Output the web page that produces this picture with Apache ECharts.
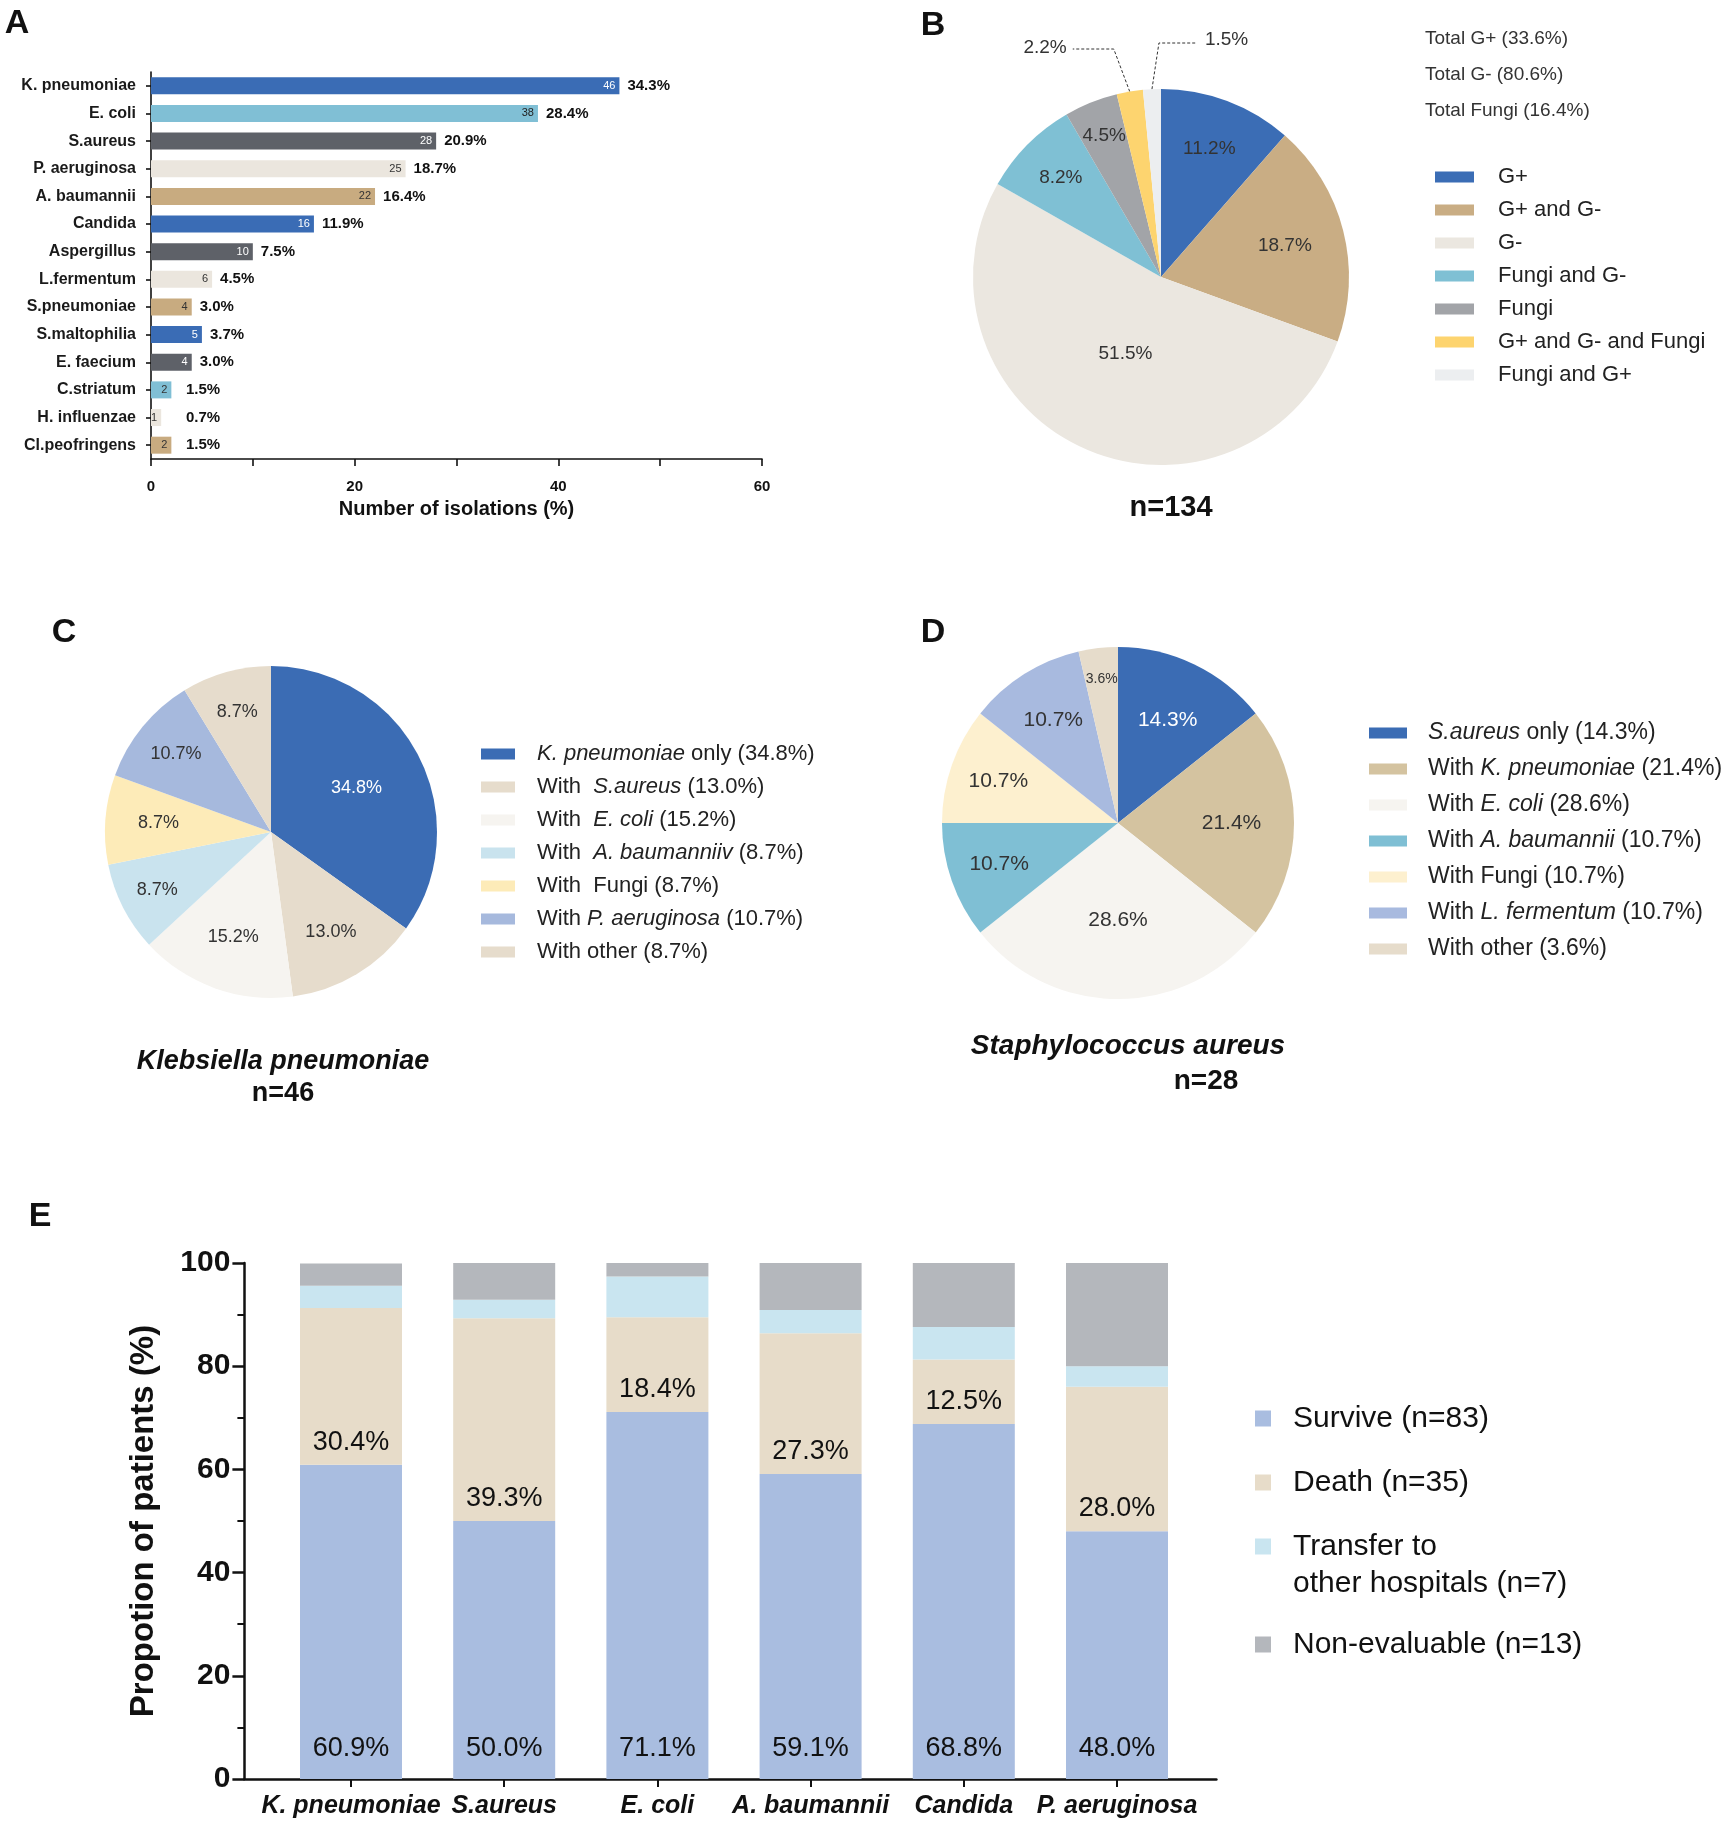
<!DOCTYPE html>
<html><head><meta charset="utf-8">
<script src="https://cdn.jsdelivr.net/npm/echarts@6/dist/echarts.min.js"></script>
<style>html,body{margin:0;padding:0;background:#fff}#c{width:1734px;height:1822px}</style>
</head><body><div id="c"></div>
<script>
// ---------------- DATA ----------------
// Panel A
const isolateNames = ['K. pneumoniae','E. coli','S.aureus','P. aeruginosa','A. baumannii','Candida','Aspergillus','L.fermentum','S.pneumoniae','S.maltophilia','E. faecium','C.striatum','H. influenzae','Cl.peofringens'];
const isolateCounts = [46,38,28,25,22,16,10,6,4,5,4,2,1,2];
const isolatePct = ['34.3','28.4','20.9','18.7','16.4','11.9','7.5','4.5','3.0','3.7','3.0','1.5','0.7','1.5'];
const xTicksA = { min: 0, max: 60, step: 10, labelEvery: 20 };
// Panel B
const mixNames = ['G+','G+ and G-','G-','Fungi and G-','Fungi','G+ and G- and Fungi','Fungi and G+'];
const mixPct = [11.2,18.7,51.5,8.2,4.5,2.2,1.5];
const totalsText = ['Total G+ (33.6%)','Total G- (80.6%)','Total Fungi (16.4%)'];
// Panel C
const kpNames = ['K. pneumoniae only','With  S.aureus','With  E. coli','With  A. baumanniiv','With  Fungi','With P. aeruginosa','With other'];
const kpLegend = ['{i|K. pneumoniae} only','With  {i|S.aureus}','With  {i|E. coli}','With  {i|A. baumanniiv}','With  Fungi','With {i|P. aeruginosa}','With other'];
const kpPct = [34.8,13.0,15.2,8.7,8.7,10.7,8.7];
// Panel D
const saNames = ['S.aureus only','With K. pneumoniae','With E. coli','With A. baumannii','With Fungi','With L. fermentum','With other'];
const saLegend = ['{i|S.aureus} only','With {i|K. pneumoniae}','With {i|E. coli}','With {i|A. baumannii}','With Fungi','With {i|L. fermentum}','With other'];
const saPct = [14.3,21.4,28.6,10.7,10.7,10.7,3.6];
// Panel E
const outcomeCats = ['K. pneumoniae','S.aureus','E. coli','A. baumannii','Candida','P. aeruginosa'];
const survive  = [60.9,50.0,71.1,59.1,68.8,48.0];
const death    = [30.4,39.3,18.4,27.3,12.5,28.0];
const transfer = [4.3,3.6,7.9,4.5,6.3,4.0];
const nonEval  = [4.3,7.1,2.6,9.1,12.5,20.0];
const outcomeNames = ['Survive (n=83)','Death (n=35)','Transfer to\nother hospitals (n=7)','Non-evaluable (n=13)'];

// ---------------- STYLE ----------------
const FONT = '"Liberation Sans", Arial, sans-serif';
const BLUE='#3a6cb5', LBLUE='#80bfd5', DGRAY='#5e6168', BEIGE='#ebe6de', TAN='#c8ab80';
const barColorsA = [BLUE,LBLUE,DGRAY,BEIGE,TAN,BLUE,DGRAY,BEIGE,TAN,BLUE,DGRAY,LBLUE,BEIGE,TAN];
const countColorsA = ['#fff','#222','#fff','#333','#333','#fff','#fff','#333','#333','#fff','#fff','#333','#333','#333'];
const mixColors = ['#3b6db5','#c9ad84','#ebe7e0','#7fc0d4','#a2a4a8','#fdd46f','#eceef0'];
const kpColors = ['#3b6cb4','#e6dccc','#f6f4f0','#c9e3ee','#fdebb8','#a6b9dd','#e6dccc'];
const saColors = ['#3b6cb4','#d4c3a0','#f6f4f0','#7fbfd4','#fdf0cf','#a8badf','#e6dccb'];
const outcomeColors = ['#a9bde0','#e7dcc9','#c9e5f0','#b4b7bc'];

const gridA = {left:151, top:72, width:611, height:387};
const pxPerUnitA = gridA.width / (xTicksA.max - xTicksA.min);

const pieB = {cx:1161, cy:277, r:188, fracs:[0.73,0.68,0.45,0.75,0.81,0,0]};
const pieC = {cx:271, cy:832, r:166, fracs:[0.58,0.70,0.67,0.77,0.68,0.74,0.75]};
const pieD = {cx:1118, cy:823, r:176, fracs:[0.65,0.645,0.555,0.715,0.72,0.69,0.82]};
const outerB = {
  5: {elbowDx:-16, lineY:49, endDx:-57, textDx:-6, textY:48, align:'right'},
  6: {elbowDx:7, lineY:43, endDx:45, textDx:8, textY:40, align:'left'}
};

function pieLayout(cfg, values, outer) {
  const total = values.reduce((s, v) => s + v, 0);
  const starts = []; let acc = 0;
  values.forEach(v => { starts.push(acc); acc += v; });
  return function (params) {
    const i = params.dataIndex;
    const a = (starts[i] + values[i] / 2) / total * Math.PI * 2;
    const sx = Math.sin(a), sy = -Math.cos(a);
    const o = outer && outer[i];
    if (o) {
      const ex = cfg.cx + cfg.r * sx, ey = cfg.cy + cfg.r * sy;
      const tx = ex + o.endDx;
      return { x: tx + o.textDx, y: o.textY, align: o.align, verticalAlign: 'middle',
        labelLinePoints: [[ex, ey], [ex + o.elbowDx, o.lineY], [tx, o.lineY]] };
    }
    const f = cfg.fracs[i];
    return { x: cfg.cx + f * cfg.r * sx, y: cfg.cy + f * cfg.r * sy, align: 'center', verticalAlign: 'middle' };
  };
}
const fullName = (n, v) => n + ' (' + v.toFixed(1) + '%)';
const kpFull = kpNames.map((n, i) => fullName(n, kpPct[i]));
const saFull = saNames.map((n, i) => fullName(n, saPct[i]));
const legendRich = {};
kpFull.forEach((n, i) => legendRich[n] = kpLegend[i] + ' (' + kpPct[i].toFixed(1) + '%)');
saFull.forEach((n, i) => legendRich[n] = saLegend[i] + ' (' + saPct[i].toFixed(1) + '%)');

function legendCfg(opts) {
  return Object.assign({
    orient: 'vertical', icon: 'rect', selectedMode: false, padding: 0,
    itemStyle: {borderWidth: 0},
    formatter: n => '{s| }' + (legendRich[n] || n).split('\n')[0],
    textStyle: {fontFamily: FONT, color: opts.color || '#222', fontSize: opts.fs, lineHeight: opts.lh,
      rich: {s: {width: opts.sp}, i: {fontStyle: 'italic'}}}
  }, opts.base);
}
const pctFmt = p => p.value.toFixed(1) + '%';

function pieSeries(cfg, names, values, colors, fs, extra) {
  return Object.assign({
    type: 'pie', center: [cfg.cx, cfg.cy], radius: cfg.r, startAngle: 90, clockwise: true,
    avoidLabelOverlap: false, silent: true,
    itemStyle: {borderWidth: 0},
    label: {show: true, position: 'inside', fontSize: fs, color: '#333', fontFamily: FONT,
      formatter: pctFmt, textBorderWidth: 0},
    labelLine: {show: false},
    data: names.map((n, i) => ({name: n, value: values[i], itemStyle: {color: colors[i]}}))
  }, extra);
}

const bData = pieSeries(pieB, mixNames, mixPct, mixColors, 19, {labelLayout: pieLayout(pieB, mixPct, outerB)});
[5, 6].forEach(i => {
  bData.data[i].label = {position: 'outside'};
  bData.data[i].labelLine = {show: true, lineStyle: {type: [3, 2], color: '#333', width: 1}};
});
const cData = pieSeries(pieC, kpFull, kpPct, kpColors, 18, {labelLayout: pieLayout(pieC, kpPct)});
cData.data[0].label = {color: '#fff'};
const dData = pieSeries(pieD, saFull, saPct, saColors, 21, {labelLayout: pieLayout(pieD, saPct)});
dData.data[0].label = {color: '#fff'};
dData.data[6].label = {fontSize: 14};

const txt = (text, x, y, font, align, color) => ({type: 'text', silent: true,
  style: {text, x, y, font: font + ' ' + FONT, fill: color || '#111', align: align || 'center', verticalAlign: 'middle'}});

const legendE = {fs: 30, lh: 37, sp: 17, color: '#111'};
const legendELeft = 1255, legendEIcon = 16;

const option = {
  animation: false,
  backgroundColor: '#fff',
  textStyle: {fontFamily: FONT},
  grid: [
    Object.assign({outerBoundsMode: 'none'}, gridA),
    {left: 274.4, top: 1263, width: 919.2, height: 516, outerBoundsMode: 'none'},
    {left: 244.4, top: 1263, width: 972, height: 516, outerBoundsMode: 'none'}
  ],
  xAxis: [
    {gridIndex: 0, type: 'value', min: xTicksA.min, max: xTicksA.max, interval: xTicksA.step,
      axisLine: {show: true, lineStyle: {color: '#111', width: 1.6}},
      axisTick: {show: true, length: 7, lineStyle: {color: '#111', width: 1.6}},
      splitLine: {show: false},
      axisLabel: {margin: 20, fontSize: 15, fontWeight: 'bold', color: '#111',
        formatter: v => (v % xTicksA.labelEvery === 0 ? String(v) : '')},
      name: 'Number of isolations (%)', nameLocation: 'middle', nameGap: 40,
      nameTextStyle: {fontSize: 20, fontWeight: 'bold', color: '#111'}},
    {gridIndex: 1, type: 'category', data: outcomeCats,
      axisLine: {show: false},
      axisTick: {show: true, alignWithLabel: true, length: 8, lineStyle: {color: '#111', width: 2}},
      axisLabel: {interval: 0, margin: 15, fontSize: 25, fontWeight: 'bold', fontStyle: 'italic', color: '#111'}},
    {gridIndex: 2, type: 'value', min: 0, max: 1,
      axisLine: {show: true, onZero: false, lineStyle: {color: '#111', width: 2.5}},
      axisTick: {show: false}, axisLabel: {show: false}, splitLine: {show: false}}
  ],
  yAxis: [
    {gridIndex: 0, type: 'category', inverse: true, data: isolateNames,
      axisLine: {show: true, lineStyle: {color: '#111', width: 1.6}},
      axisTick: {show: true, alignWithLabel: true, length: 5, lineStyle: {color: '#111', width: 1.6}},
      axisLabel: {interval: 0, margin: 15, fontSize: 16, fontWeight: 'bold', color: '#1a1a1a'}},
    {gridIndex: 1, type: 'value', min: 0, max: 100, interval: 20, offset: 30,
      axisLine: {show: true, lineStyle: {color: '#111', width: 2.5}},
      axisTick: {show: true, length: 12, lineStyle: {color: '#111', width: 2.5}},
      minorTick: {show: true, splitNumber: 2, length: 7, lineStyle: {color: '#111', width: 2}},
      splitLine: {show: false}, minorSplitLine: {show: false},
      axisLabel: {margin: 14, fontSize: 30, fontWeight: 'bold', color: '#111'},
      name: 'Propotion of patients (%)', nameLocation: 'middle', nameGap: 84, nameRotate: 90,
      nameTextStyle: {fontSize: 33, fontWeight: 'bold', color: '#111'}},
    {gridIndex: 2, type: 'value', show: false, min: 0, max: 1}
  ],
  legend: [
    legendCfg({fs: 22, lh: 22, sp: 19, base: {left: 1435, top: 166, itemWidth: 39, itemHeight: 11, itemGap: 11, data: mixNames}}),
    legendCfg({fs: 22, lh: 22, sp: 17, base: {left: 481, top: 743, itemWidth: 34, itemHeight: 11, itemGap: 11, data: kpFull}}),
    legendCfg({fs: 23, lh: 24, sp: 16, base: {left: 1369, top: 721, itemWidth: 38, itemHeight: 11, itemGap: 12, data: saFull}}),
    legendCfg(Object.assign({base: {left: legendELeft, top: 1400, itemWidth: legendEIcon, itemHeight: legendEIcon, itemGap: 27,
      data: outcomeNames.slice(0, 3)}}, legendE)),
    legendCfg(Object.assign({base: {left: legendELeft, top: 1626, itemWidth: legendEIcon, itemHeight: legendEIcon, itemGap: 27,
      data: outcomeNames.slice(3)}}, legendE))
  ],
  series: [
    {type: 'bar', xAxisIndex: 0, yAxisIndex: 0, barWidth: 17, silent: true,
      data: isolateCounts.map((v, i) => ({value: v, itemStyle: {color: barColorsA[i]}, label: {color: countColorsA[i]}})),
      label: {show: true, position: 'insideRight', distance: 4, fontSize: 11, formatter: '{c}'}},
    {type: 'bar', xAxisIndex: 0, yAxisIndex: 0, barWidth: 17, barGap: '-100%', silent: true,
      itemStyle: {color: 'rgba(0,0,0,0)'},
      data: isolateCounts.map(v => ({value: v, label: {distance: Math.max(8, 35 - v * pxPerUnitA)}})),
      label: {show: true, position: 'right', fontSize: 15, fontWeight: 'bold', color: '#111',
        formatter: p => isolatePct[p.dataIndex] + '%'}},
    bData, cData, dData,
    {type: 'bar', name: outcomeNames[0], stack: 'o', xAxisIndex: 1, yAxisIndex: 1, barWidth: 102, silent: true,
      itemStyle: {color: outcomeColors[0]}, data: survive,
      label: {show: true, position: 'insideBottom', distance: 17, fontSize: 27, color: '#111', formatter: pctFmt}},
    {type: 'bar', name: outcomeNames[1], stack: 'o', xAxisIndex: 1, yAxisIndex: 1, barWidth: 102, silent: true,
      itemStyle: {color: outcomeColors[1]}, data: death,
      label: {show: true, position: 'insideBottom', distance: 9, fontSize: 27, color: '#111', formatter: pctFmt}},
    {type: 'bar', name: outcomeNames[2], stack: 'o', xAxisIndex: 1, yAxisIndex: 1, barWidth: 102, silent: true,
      itemStyle: {color: outcomeColors[2]}, data: transfer},
    {type: 'bar', name: outcomeNames[3], stack: 'o', xAxisIndex: 1, yAxisIndex: 1, barWidth: 102, silent: true,
      itemStyle: {color: outcomeColors[3]}, data: nonEval}
  ],
  graphic: [
    txt('A', 17, 24, 'bold 34px'),
    txt('B', 933, 26, 'bold 34px'),
    txt('C', 64, 633, 'bold 34px'),
    txt('D', 933, 633, 'bold 34px'),
    txt('E', 40, 1217, 'bold 34px'),
    txt(totalsText[0], 1425, 39, '19px', 'left', '#333'),
    txt(totalsText[1], 1425, 75, '19px', 'left', '#333'),
    txt(totalsText[2], 1425, 111, '19px', 'left', '#333'),
    txt('n=134', 1171, 508, 'bold 29px'),
    txt('Klebsiella pneumoniae', 283, 1062, 'italic bold 27px'),
    txt('n=46', 283, 1094, 'bold 27px'),
    txt('Staphylococcus aureus', 1128, 1046, 'italic bold 28px'),
    txt('n=28', 1206, 1081, 'bold 28px'),
    // second line of the "Transfer to" legend entry
    txt(outcomeNames[2].split('\n')[1], legendELeft + legendEIcon + 5 + legendE.sp, 1455 + 2 * 64 - 1455 + 1419 + 37, '30px', 'left', '#111')
  ]
};
const chart = echarts.init(document.getElementById('c'));
chart.setOption(option);
</script></body></html>
